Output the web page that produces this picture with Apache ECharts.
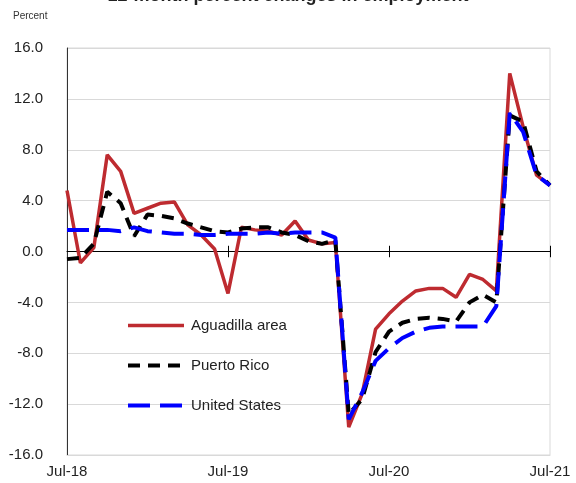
<!DOCTYPE html>
<html><head><meta charset="utf-8">
<script src="https://cdn.jsdelivr.net/npm/echarts@6/dist/echarts.min.js"></script>
<style>html,body{margin:0;padding:0;background:#fff}#c{width:576px;height:483px}</style>
</head><body><div id="c"></div>
<script>
const months = ["Jul-18","Aug-18","Sep-18","Oct-18","Nov-18","Dec-18","Jan-19","Feb-19","Mar-19","Apr-19","May-19","Jun-19",
"Jul-19","Aug-19","Sep-19","Oct-19","Nov-19","Dec-19","Jan-20","Feb-20","Mar-20","Apr-20","May-20","Jun-20",
"Jul-20","Aug-20","Sep-20","Oct-20","Nov-20","Dec-20","Jan-21","Feb-21","Mar-21","Apr-21","May-21","Jun-21","Jul-21"];
const aguadilla = [4.8,-0.9,0.3,7.6,6.3,3.0,3.4,3.8,3.9,2.1,1.3,0.2,
-3.3,1.9,1.7,1.6,1.3,2.4,0.9,0.6,0.7,-13.8,-11.2,-6.1,
-4.9,-3.9,-3.1,-2.9,-2.9,-3.6,-1.8,-2.2,-3.1,14.0,9.8,6.0,5.2];
const puertoRico = [-0.6,-0.5,0.6,4.7,3.8,1.2,2.9,2.8,2.6,2.2,1.9,1.6,
1.5,1.8,1.9,1.9,1.5,1.3,0.8,0.6,0.9,-12.8,-11.6,-7.9,
-6.3,-5.6,-5.3,-5.2,-5.3,-5.5,-4.0,-3.4,-4.0,10.7,10.2,6.3,5.2];
const unitedStates = [1.7,1.7,1.7,1.7,1.6,1.9,1.6,1.5,1.4,1.4,1.3,1.3,
1.4,1.4,1.4,1.5,1.4,1.5,1.5,1.5,1.1,-13.2,-11.1,-8.6,
-7.6,-6.8,-6.3,-6.0,-5.9,-5.9,-5.9,-5.9,-4.3,10.9,9.4,6.0,5.2];
const seriesNames = ["Aguadilla area","Puerto Rico","United States"];
const tickMonths = ["Jul-19","Jul-20","Jul-21"];
const yTicks = {min:-16, max:16, step:4};

const font = "'Liberation Sans', Arial, sans-serif";
const chart = echarts.init(document.getElementById('c'), null, {renderer:'canvas'});
const tickHalf = 0.45;
const styles = [
  {color:'#be2b30', width:3.5, type:'solid'},
  {color:'#000', width:4, type:[12,8]},
  {color:'#0000ff', width:4, type:[22,10]}
];
chart.setOption({
  animation:false,
  backgroundColor:'#fff',
  graphic:[
    {type:'text', left:'center', top:-13, style:{text:'12-month percent changes in employment', font:"bold 18px "+font, fill:'#222'}},
    {type:'text', left:13, top:11, style:{text:'Percent', font:"10px "+font, fill:'#333'}}
  ],
  grid:{left:67, right:26, top:48, bottom:28, show:true, borderColor:'#d9d9d9', borderWidth:1, containLabel:false},
  legend:{
    orient:'vertical', left:121, top:313, itemWidth:56, itemHeight:12, itemGap:25,
    itemStyle:{opacity:0},
    textStyle:{fontSize:15, fontFamily:font, color:'#222', padding:[0,0,0,2]},
    data:seriesNames.map((n,i)=>({name:n, lineStyle:{color:styles[i].color, width:styles[i].width, type:styles[i].type}}))
  },
  xAxis:[
    {type:'category', data:months, boundaryGap:false, position:'bottom',
     axisLine:{show:true, onZero:false, lineStyle:{color:'#d9d9d9'}},
     axisTick:{show:false},
     axisLabel:{interval:11, color:'#222', fontSize:15, fontFamily:font, margin:9},
     splitLine:{show:false}},
    {type:'category', data:months, boundaryGap:false, position:'bottom',
     axisLine:{show:true, onZero:true, lineStyle:{color:'#000', width:1}},
     axisTick:{show:false},
     axisLabel:{show:false}}
  ],
  yAxis:{type:'value', min:yTicks.min, max:yTicks.max, interval:yTicks.step,
    axisLine:{show:true, lineStyle:{color:'#333'}},
    axisTick:{show:false},
    axisLabel:{formatter:v=>v.toFixed(1), color:'#222', fontSize:15, fontFamily:font, margin:24},
    splitLine:{show:true, lineStyle:{color:'#d9d9d9', width:1}}},
  series:[
    {name:seriesNames[0], type:'line', data:aguadilla, xAxisIndex:0, showSymbol:false, symbol:'none',
     lineStyle:styles[0], itemStyle:{color:styles[0].color}, z:2},
    {name:seriesNames[1], type:'line', data:puertoRico, xAxisIndex:0, showSymbol:false, symbol:'none',
     lineStyle:styles[1], itemStyle:{color:styles[1].color}, z:3},
    {name:seriesNames[2], type:'line', data:unitedStates, xAxisIndex:0, showSymbol:false, symbol:'none',
     lineStyle:styles[2], itemStyle:{color:styles[2].color}, z:4},
    {type:'line', data:[], xAxisIndex:0, silent:true, z:1,
     markLine:{silent:true, symbol:'none', label:{show:false}, animation:false,
       lineStyle:{color:'#000', width:1, type:'solid'},
       data: tickMonths.map(m=>[{coord:[m, -tickHalf]},{coord:[m, tickHalf]}])}}
  ]
});
</script></body></html>
